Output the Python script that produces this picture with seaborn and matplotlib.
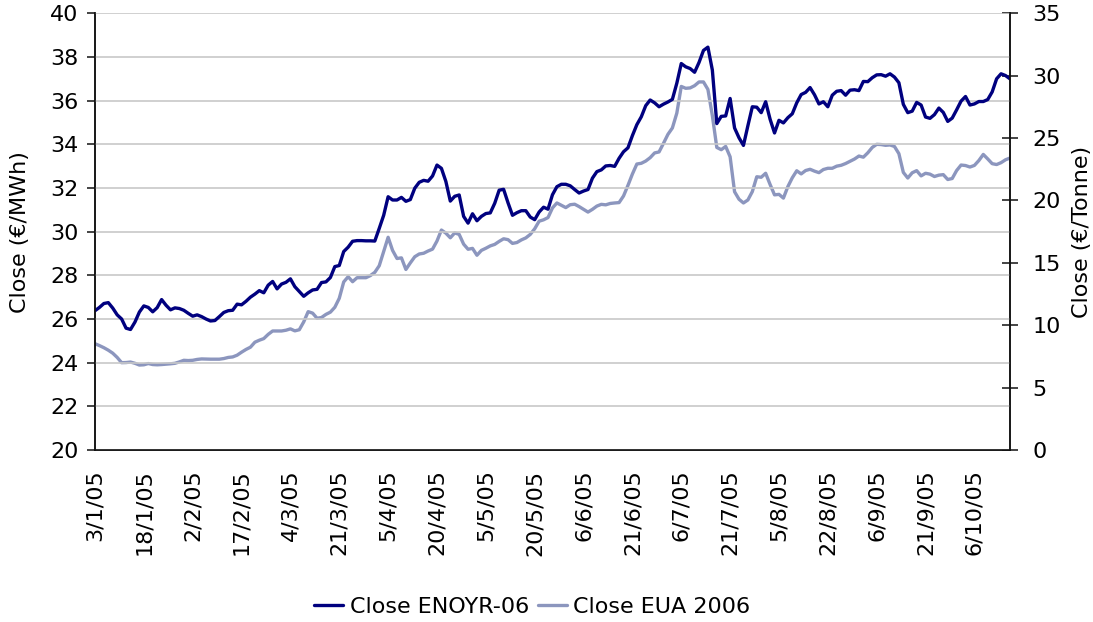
import pandas as pd
import matplotlib
matplotlib.use("Agg")
import matplotlib.pyplot as plt
import seaborn as sns

# ─────────────────────────────────────────────
# DATA: daily closes, 3 Jan 2005 onwards (trading days)
# ─────────────────────────────────────────────
enoyr_06 = [
    26.38, 26.53, 26.71, 26.75, 26.50, 26.19, 26.00, 25.58, 25.52, 25.86,
    26.32, 26.60, 26.53, 26.33, 26.52, 26.89, 26.63, 26.42, 26.51, 26.48,
    26.40, 26.26, 26.13, 26.19, 26.11, 26.00, 25.91, 25.93, 26.11, 26.30,
    26.38, 26.40, 26.68, 26.65, 26.81, 27.00, 27.14, 27.30, 27.20, 27.55,
    27.72, 27.38, 27.60, 27.68, 27.84, 27.48, 27.26, 27.04, 27.20, 27.33,
    27.36, 27.67, 27.70, 27.90, 28.40, 28.45, 29.09, 29.29, 29.56, 29.59,
    29.59, 29.58, 29.58, 29.57, 30.15, 30.75, 31.60, 31.45, 31.45, 31.57,
    31.39, 31.47, 31.99, 32.26, 32.35, 32.31, 32.55, 33.05, 32.90, 32.30,
    31.40, 31.62, 31.68, 30.70, 30.39, 30.82, 30.50, 30.70, 30.83, 30.86,
    31.30, 31.90, 31.94, 31.32, 30.75, 30.87, 30.96, 30.96, 30.67, 30.55,
    30.90, 31.12, 31.03, 31.69, 32.06, 32.17, 32.17, 32.10, 31.93, 31.77,
    31.86, 31.93, 32.45, 32.75, 32.83, 33.01, 33.03, 32.99, 33.36, 33.66,
    33.84, 34.40, 34.90, 35.26, 35.77, 36.03, 35.90, 35.72, 35.84, 35.94,
    36.06, 36.80, 37.70, 37.55, 37.47, 37.30, 37.75, 38.30, 38.45, 37.40,
    34.95, 35.28, 35.30, 36.10, 34.75, 34.30, 33.95, 34.85, 35.72, 35.70,
    35.45, 35.95, 35.15, 34.52, 35.10, 34.98, 35.22, 35.40, 35.90, 36.28,
    36.38, 36.60, 36.27, 35.85, 35.95, 35.72, 36.25, 36.43, 36.46, 36.25,
    36.48, 36.50, 36.46, 36.88, 36.87, 37.05, 37.18, 37.19, 37.12, 37.23,
    37.08, 36.82, 35.83, 35.45, 35.52, 35.92, 35.80, 35.25, 35.19, 35.36,
    35.66, 35.46, 35.05, 35.20, 35.58, 35.98, 36.19, 35.80, 35.85, 35.96,
    35.96, 36.05, 36.40, 37.00, 37.23, 37.15, 37.00,
]

eua_2006 = [
    8.52, 8.37, 8.20, 8.00, 7.76, 7.42, 7.00, 7.01, 7.05, 6.95,
    6.81, 6.83, 6.93, 6.85, 6.83, 6.85, 6.88, 6.91, 6.95, 7.06,
    7.19, 7.17, 7.19, 7.26, 7.30, 7.29, 7.28, 7.28, 7.28, 7.33,
    7.42, 7.46, 7.60, 7.84, 8.06, 8.24, 8.64, 8.80, 8.93, 9.27,
    9.54, 9.54, 9.54, 9.60, 9.71, 9.55, 9.64, 10.27, 11.09, 10.97,
    10.56, 10.62, 10.87, 11.05, 11.44, 12.16, 13.47, 13.89, 13.49, 13.81,
    13.81, 13.81, 13.98, 14.24, 14.77, 15.92, 17.05, 16.00, 15.35, 15.40,
    14.47, 15.00, 15.49, 15.71, 15.77, 15.95, 16.10, 16.75, 17.63, 17.38,
    17.01, 17.40, 17.28, 16.50, 16.09, 16.16, 15.61, 16.00, 16.17, 16.36,
    16.48, 16.72, 16.93, 16.86, 16.56, 16.63, 16.84, 17.00, 17.28, 17.73,
    18.34, 18.45, 18.63, 19.40, 19.80, 19.61, 19.43, 19.66, 19.70, 19.51,
    19.29, 19.07, 19.29, 19.55, 19.69, 19.65, 19.76, 19.80, 19.83, 20.36,
    21.21, 22.12, 22.92, 22.98, 23.16, 23.43, 23.81, 23.89, 24.58, 25.30,
    25.81, 27.00, 29.14, 28.99, 29.02, 29.20, 29.50, 29.50, 28.90, 26.80,
    24.25, 24.07, 24.33, 23.50, 20.70, 20.10, 19.80, 20.04, 20.71, 21.90,
    21.86, 22.18, 21.28, 20.45, 20.49, 20.19, 21.11, 21.82, 22.38, 22.13,
    22.40, 22.50, 22.35, 22.23, 22.48, 22.58, 22.58, 22.75, 22.82, 22.96,
    23.14, 23.32, 23.56, 23.47, 23.82, 24.25, 24.50, 24.48, 24.42, 24.45,
    24.33, 23.75, 22.25, 21.80, 22.22, 22.39, 21.97, 22.18, 22.11, 21.92,
    22.03, 22.07, 21.68, 21.76, 22.40, 22.84, 22.80, 22.68, 22.81, 23.20,
    23.69, 23.33, 22.95, 22.88, 23.03, 23.26, 23.40,
]

tick_labels = [
    "3/1/05", "18/1/05", "2/2/05", "17/2/05", "4/3/05", "21/3/05", "5/4/05",
    "20/4/05", "5/5/05", "20/5/05", "6/6/05", "21/6/05", "6/7/05", "21/7/05",
    "5/8/05", "22/8/05", "6/9/05", "21/9/05", "6/10/05",
]

dates = pd.bdate_range("2005-01-03", periods=len(enoyr_06))
df = pd.DataFrame({
    "day": range(len(dates)),
    "date": dates,
    "Close ENOYR-06": enoyr_06,
    "Close EUA 2006": eua_2006,
})

# ─────────────────────────────────────────────
# STYLE
# ─────────────────────────────────────────────
sns.set_style("white")
plt.rcParams["font.family"] = ["DejaVu Sans"]
plt.rcParams["font.size"] = 16
plt.rcParams["text.color"] = "black"
plt.rcParams["axes.labelcolor"] = "black"
plt.rcParams["xtick.color"] = "black"
plt.rcParams["ytick.color"] = "black"

navy = "#00007f"
slate = "#8c96be"
grid_col = "#c8c8c8"

fig = plt.figure(figsize=(10.93, 6.22), dpi=100)
ax = fig.add_axes([0.0869, 0.2765, 0.924 - 0.0869, 0.9786 - 0.2765])
ax2 = ax.twinx()

sns.lineplot(data=df, x="day", y="Close ENOYR-06", ax=ax, color=navy,
             linewidth=2.4, label="Close ENOYR-06", legend=False)
sns.lineplot(data=df, x="day", y="Close EUA 2006", ax=ax2, color=slate,
             linewidth=2.4, label="Close EUA 2006", legend=False)

# dark line on top of the light one
ax.set_zorder(ax2.get_zorder() + 1)
ax.patch.set_visible(False)

# ─────────────────────────────────────────────
# AXES
# ─────────────────────────────────────────────
n = len(df)
ax.set_xlim(0, n - 1)
ax.set_ylim(20, 40)
ax.set_yticks(range(20, 41, 2))
ax2.set_ylim(0, 35)
ax2.set_yticks(range(0, 36, 5))

ax.yaxis.grid(True, color=grid_col, linewidth=1.2)
ax.xaxis.grid(False)
ax2.grid(False)

# labels every 11 trading days, tick marks every 9 (as in the source)
ax.set_xticks(list(range(0, 11 * len(tick_labels), 11)))
ax.set_xticklabels(tick_labels, rotation=90, va="top", ha="center")
ax.set_xticks(list(range(0, n, 9)), minor=True)
ax.tick_params(axis="x", which="major", length=0, pad=14, labelsize=16,
               labelcolor="black")
ax.tick_params(axis="x", which="minor", length=5.5, width=1.1, direction="out",
               color="#222222")
ax.tick_params(axis="y", length=6, width=1.1, direction="out", pad=6,
               labelsize=16, color="#111111", labelcolor="black")
ax2.tick_params(axis="y", length=12, width=1.1, direction="inout", pad=10,
                labelsize=16, color="#111111", labelcolor="black")

ax.set_xlabel("")
ax.set_ylabel("Close (€/MWh)", fontsize=16, labelpad=14, color="black")
ax2.set_ylabel("Close (€/Tonne)", fontsize=16, labelpad=8, color="black")

for a in (ax, ax2):
    a.spines["top"].set_visible(False)
    for side in ("left", "right", "bottom"):
        a.spines[side].set_color("#111111")
        a.spines[side].set_linewidth(1.1)

# ─────────────────────────────────────────────
# LEGEND
# ─────────────────────────────────────────────
h1, l1 = ax.get_legend_handles_labels()
h2, l2 = ax2.get_legend_handles_labels()
fig.legend(h1 + h2, l1 + l2, loc="center", bbox_to_anchor=(0.487, 0.024),
           ncol=2, frameon=False, fontsize=16, handlelength=1.3,
           handletextpad=0.3, columnspacing=0.4, labelcolor="black")

fig.savefig("out.png", dpi=100)
